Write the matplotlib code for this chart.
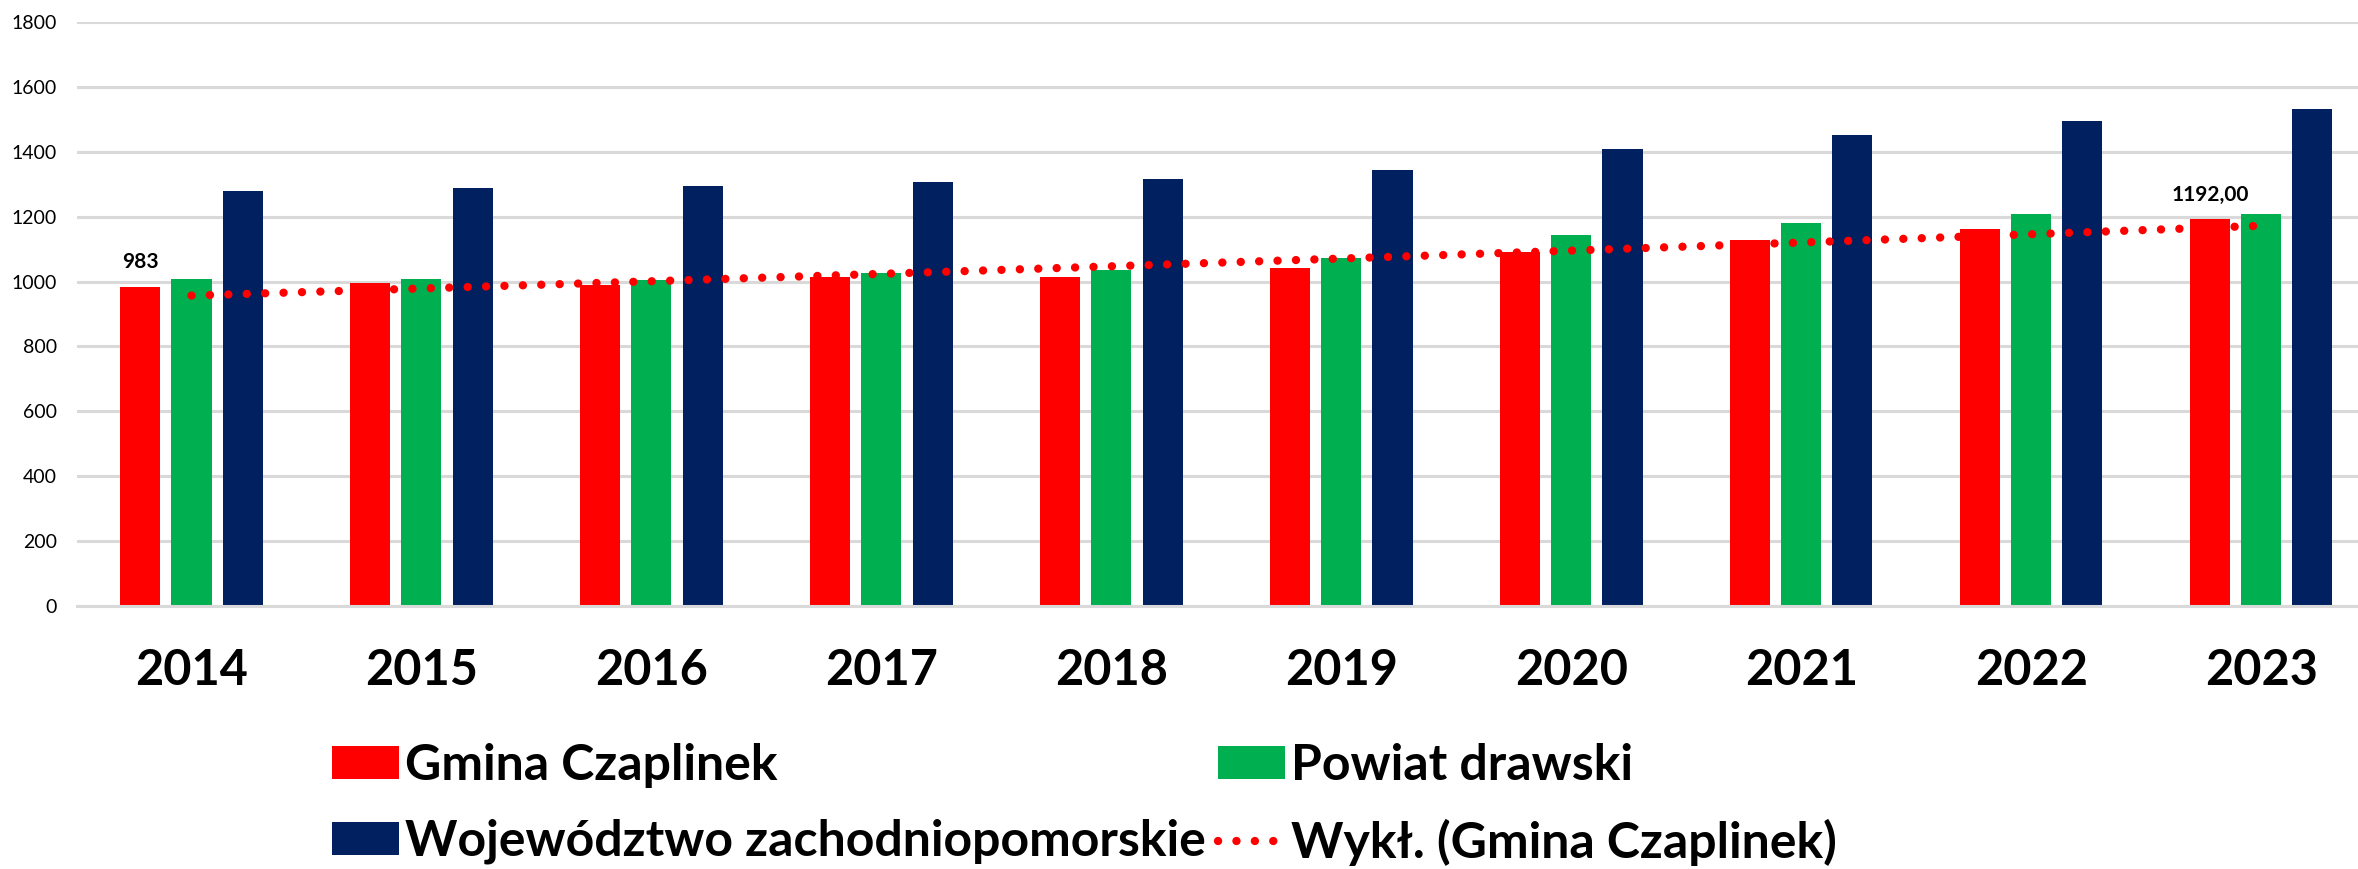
import numpy as np
import matplotlib
matplotlib.use('Agg')
from matplotlib import pyplot as plt

years = ['2014', '2015', '2016', '2017', '2018', '2019', '2020', '2021', '2022', '2023']
gmina = [983, 996, 990, 1014, 1014, 1043, 1092, 1127, 1163, 1192]
powiat = [1008, 1007, 1005, 1025, 1035, 1074, 1143, 1181, 1208, 1208]
wojewodztwo = [1278, 1289, 1295, 1307, 1316, 1344, 1408, 1453, 1495, 1531]
series_names = ['Gmina Czaplinek', 'Powiat drawski', 'Województwo zachodniopomorskie']
trend_name = 'Wykł. (Gmina Czaplinek)'
yticks = [0, 200, 400, 600, 800, 1000, 1200, 1400, 1600, 1800]

colors = {
    'red': '#FF0000',
    'green': '#00B050',
    'navy': '#002060',
}

plt.rc('font', family='Lato', size=14)

fig = plt.figure(figsize=(23.58, 8.69), dpi=100)
ax = fig.add_axes([76.5 / 2358, 1 - 606 / 869, 1 - 76.5 / 2358, (606 - 22) / 869])

x = np.arange(len(years))
width = 0.174
offset = 0.222
ax.bar(x - offset, gmina, width, color=colors['red'], label=series_names[0], zorder=2)
ax.bar(x, powiat, width, color=colors['green'], label=series_names[1], zorder=2)
ax.bar(x + offset, wojewodztwo, width, color=colors['navy'], label=series_names[2], zorder=2)

# exponential trendline (like Excel's "Wykł.") fitted on the Gmina series
b, a = np.polyfit(x + 1, np.log(gmina), 1)
trend = np.exp(a + b * (x + 1))
ax.plot(x, trend, color=colors['red'], linewidth=6, linestyle=(0, (0.01, 2.2)),
        dash_capstyle='round', label=trend_name, zorder=3)

# data labels on first and last Gmina bar
ax.text(x[0] - offset, gmina[0] + 45, '983', ha='center', va='bottom', fontsize=15, fontweight='bold')
ax.text(x[-1] - offset, gmina[-1] + 45, '1192,00', ha='center', va='bottom', fontsize=15, fontweight='bold')

ax.set_xlim(-0.5, 9.42)
ax.set_ylim(0, 1800)
ax.set_yticks(yticks)
ax.set_xticks(x)
ax.set_xticklabels(years, fontsize=35, fontweight='bold')
ax.tick_params(axis='x', length=0, pad=30)
ax.tick_params(axis='y', length=0, pad=14, labelsize=14)
ax.grid(axis='y', color='#d9d9d9', linewidth=2.2, zorder=0)
ax.set_axisbelow(True)
for side in ['top', 'right', 'left']:
    ax.spines[side].set_visible(False)
ax.spines['bottom'].set_color('#d9d9d9')
ax.spines['bottom'].set_linewidth(2.2)

# legend filled column-wise: col1 = Gmina, Wojewodztwo; col2 = Powiat, trend
handles, labels = ax.get_legend_handles_labels()
order = [1, 3, 2, 0]
fig.legend([handles[i] for i in order], [labels[i] for i in order],
           loc='upper left', bbox_to_anchor=(332 / 2358, 1 - 743 / 869),
           ncol=2, frameon=False, borderpad=0, borderaxespad=0,
           prop={'family': 'Lato', 'weight': 'bold', 'size': 36},
           handlelength=1.34, handleheight=0.64, handletextpad=0.12,
           columnspacing=0.25, labelspacing=0.62)

fig.savefig('out.png', dpi=100)
